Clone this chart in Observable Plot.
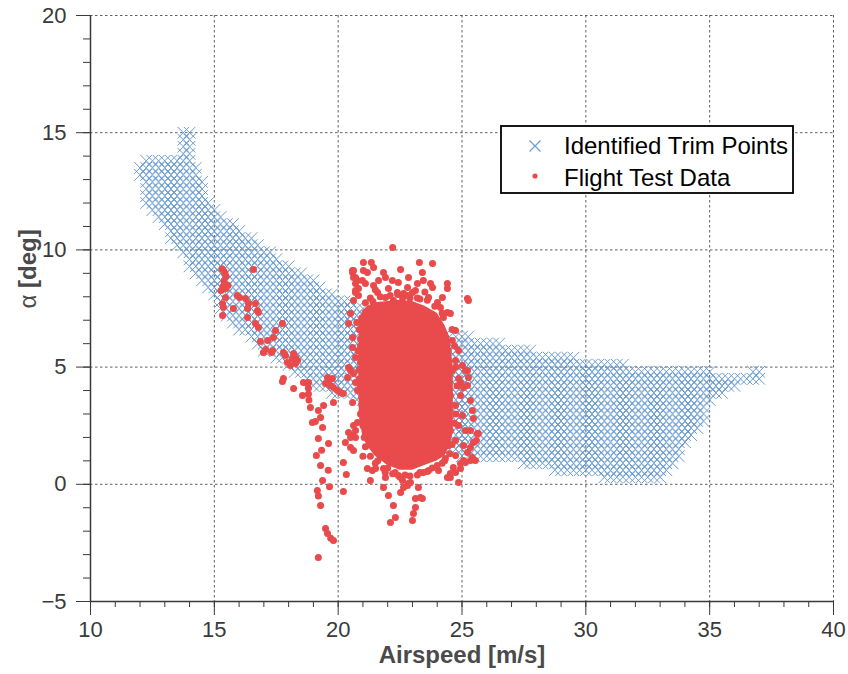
<!DOCTYPE html>
<html><head><meta charset="utf-8">
<script src="https://cdn.jsdelivr.net/npm/d3@7"></script>
<script src="https://cdn.jsdelivr.net/npm/@observablehq/plot@0.6"></script>
<style>
body{margin:0;background:#fff;}
#wrap{position:relative;width:848px;height:674px;}
#legend{position:absolute;left:500px;top:125px;}
</style></head><body><div id="wrap"></div>
<script>
// ---------- Identified trim points: envelope per airspeed column ----------
const trimSpeed = [12.00,12.25,12.50,12.75,13.00,13.25,13.50,13.75,14.00,14.25,14.50,14.75,15.00,15.25,15.50,15.75,16.00,16.25,16.50,16.75,17.00,17.25,17.50,17.75,18.00,18.25,18.50,18.75,19.00,19.25,19.50,19.75,20.00,20.25,20.50,20.75,21.00,21.25,21.50,21.75,22.00,22.25,22.50,22.75,23.00,23.25,23.50,23.75,24.00,24.25,24.50,24.75,25.00,25.25,25.50,25.75,26.00,26.25,26.50,26.75,27.00,27.25,27.50,27.75,28.00,28.25,28.50,28.75,29.00,29.25,29.50,29.75,30.00,30.25,30.50,30.75,31.00,31.25,31.50,31.75,32.00,32.25,32.50,32.75,33.00,33.25,33.50,33.75,34.00,34.25,34.50,34.75,35.00,35.25,35.50,35.75,36.00,36.25,36.50,36.75,37.00];
const trimAlphaMin = [13.2,11.9,11.55,11.3,10.9,10.45,10.05,9.65,9.25,8.9,8.5,8.2,7.85,7.45,7.1,6.85,6.6,6.35,6.1,5.85,5.65,5.45,5.3,5.15,4.95,4.75,4.55,4.35,4.2,4.05,3.95,3.85,3.8,3.75,3.65,3.55,3.45,3.3,3.15,3.0,2.85,2.7,2.5,2.35,2.2,2.05,1.9,1.75,1.6,1.45,1.3,1.25,1.2,1.2,1.2,1.15,1.15,1.1,1.1,1.05,1.0,0.95,0.9,0.85,0.8,0.75,0.7,0.6,0.55,0.5,0.5,0.45,0.45,0.4,0.35,0.3,0.25,0.2,0.2,0.2,0.2,0.2,0.2,0.2,0.25,0.5,0.9,1.2,1.55,1.9,2.25,2.6,3.45,3.7,3.9,4.05,4.2,4.3,4.4,4.4,4.5];
const trimAlphaMax = [13.6,13.8,13.8,13.9,13.9,14.0,14.0,15.0,15.0,13.5,12.9,12.2,11.8,11.5,11.3,11.1,10.9,10.7,10.5,10.3,10.1,9.9,9.7,9.5,9.35,9.2,9.0,8.85,8.7,8.5,8.35,8.2,8.05,7.95,7.85,7.75,7.65,7.55,7.45,7.35,7.25,7.15,7.05,6.95,6.85,6.75,6.7,6.6,6.55,6.5,6.45,6.4,6.35,6.3,6.2,6.15,6.1,6.05,6.0,5.95,5.9,5.85,5.75,5.7,5.6,5.55,5.5,5.45,5.45,5.4,5.4,5.35,5.35,5.3,5.3,5.25,5.2,5.15,5.1,5.05,5.0,5.0,5.0,5.0,5.0,4.95,4.95,4.95,4.95,4.9,4.9,4.85,4.8,4.75,4.7,4.65,4.6,4.7,4.7,4.8,4.8];
const trimAlphaStep = 0.3;

// ---------- Flight test data ----------
// dense core (thousands of overlapping samples): visible extent per airspeed
const coreSpeed    = [20.85,21.0,21.2,21.5,22.0,22.5,23.0,23.5,24.0,24.3,24.5,24.65];
const coreAlphaMin = [3.0, 2.0, 1.6, 1.2, 0.8, 0.6, 0.6, 0.8, 1.0, 1.2, 1.6, 2.2];
const coreAlphaMax = [7.0, 7.4, 7.6, 7.75,7.8, 7.85,7.8, 7.6, 7.3, 6.8, 6.3, 5.0];

const flightLeftArm = [[15.39,9.08],[15.47,8.86],[15.39,8.65],[15.35,8.44],[15.27,8.27],[15.55,8.48],[15.47,8.35],[15.31,9.2],[15.43,8.99],
[16.58,9.16],[15.45,7.97],[15.33,7.70],[15.37,7.55],[15.77,7.50],[15.33,7.20],
[15.93,8.05],[16.02,7.97],[16.26,7.93],[16.38,7.71],[16.66,7.71],[16.34,7.50],[16.74,7.41],[16.78,7.33],[16.34,7.12],[16.66,6.86],[16.78,6.69],
[17.75,6.86],[17.47,6.56],[17.39,6.26],[16.86,6.09],[17.15,6.13],
[17.07,5.75],[16.98,5.62],[17.35,5.71],[17.31,5.62],
[17.79,5.62],[17.87,5.49],[18.20,5.58],[18.28,5.41],[18.16,5.37],[17.95,5.20],[18.07,5.07],[18.28,5.15],[18.36,5.28],
[17.75,4.39],[17.79,4.51],[18.20,4.09],[18.60,4.34],[18.76,4.30],
[18.80,4.34],[18.80,4.10],[18.80,3.85],[18.82,3.60],[18.56,3.79],
[18.88,3.28],[19.20,3.15],[19.41,3.36],[19.29,2.85],[18.96,2.64],[19.37,2.42],[19.08,2.68],
[19.20,1.95],[19.61,1.74],
[19.57,4.56],[19.61,4.34],[19.69,4.22],[19.81,4.13],[19.97,4.0],[20.09,3.92],[20.21,3.87],[19.77,4.51],[19.49,4.30],
[19.81,3.49],[20.58,3.49],[20.38,4.56],[20.50,4.85]];

const flightLowTail = [[19.2,-3.12],[19.49,-1.89],[19.57,-2.1],[19.7,-2.3],[19.81,-2.40],[19.29,-0.9],[19.2,-0.5],[19.16,-0.26],[19.37,0.16],[19.29,0.80],[19.12,1.23],[19.33,1.45],[19.6,0.6],[19.65,-0.1],
[20.29,1.78],[20.21,0.93],[20.33,0.42],[20.21,-0.31],[20.70,2.30],[20.78,2.64],[20.58,2.08],[20.50,1.57],[20.62,1.44],[20.42,2.21],[20.62,2.51],[20.50,2.0],[20.70,2.0],
[21.18,0.67],[21.38,0.59],[21.30,0.16],[21.51,0.67],[21.83,0.67],[21.91,0.29],[21.83,-0.14],[22.03,-0.48],[22.23,-0.90],[22.31,-1.42],[22.11,-1.63],
[22.43,0.38],[22.60,0.16],[22.64,-0.14],[22.52,-0.35],[22.80,-0.05],[22.84,0.03],[22.92,0.08],
[23.0,-1.54],[23.04,-1.25],[23.12,-0.99],[23.12,-0.61],[23.32,-0.56],[23.24,-0.14],[23.40,-0.61],
[23.44,0.50],[23.65,0.59],[24.05,0.59],[24.53,0.29],[24.74,0.50],[24.86,0.08],[24.94,0.67],[25.14,0.93],[25.34,1.02],[25.54,1.02],
[21.0,1.2],[21.6,1.0],[22.0,0.7],[22.3,0.5],[22.7,0.4],[23.2,0.4],[23.8,0.7],[24.2,0.9]];

const flightRightEdge = [[25.22,4.85],[25.26,4.56],[25.06,4.13],[24.94,4.34],[25.34,3.58],[25.42,3.15],[25.46,2.81],[25.62,2.17],[25.46,1.78],[25.34,1.57],[25.22,1.36],[25.42,1.14],[25.06,1.02],[24.94,0.89],[24.65,0.72],[24.53,0.46],[24.41,0.29],
[24.33,2.72],[24.53,2.30],[24.74,1.87],[24.45,1.66],[24.86,2.51],[25.02,2.94],[24.74,3.36],[24.53,3.79],[24.33,4.22],[24.94,3.79],[25.14,2.30],[25.06,1.66],[25.34,2.30],[25.58,1.87],[25.66,2.17],[24.74,1.23],[24.33,1.10],[24.61,4.85],[24.74,5.28],[24.45,5.71],[24.61,6.13],[24.86,5.71],[25.02,5.07],[24.74,6.56],
[25.14,4.85],[24.86,4.51],[25.22,4.22],
[24.6,6.6],[24.7,5.9],[24.75,5.0],[24.8,4.2],[24.75,3.0],[24.7,2.6]];

const flightTopEdge = [[22.2,10.1],
[21.02,9.46],[21.34,9.46],[21.43,9.25],[21.02,9.12],[21.18,9.04],[20.62,9.12],[20.58,9.04],[20.70,8.82],[20.78,8.69],[20.98,8.69],[21.10,8.57],[20.82,8.35],[20.70,8.18],[20.82,8.05],[21.43,8.48],[21.63,8.69],[21.83,9.04],[21.91,8.82],[22.19,8.69],[22.43,8.61],[22.52,9.16],[22.84,8.82],[22.03,8.35],[22.39,8.18],[22.64,8.14],[21.59,8.18],[21.91,7.97],[22.23,7.84],
[23.28,9.46],[23.81,9.42],[23.40,9.04],[23.44,8.69],[23.20,8.57],[23.12,8.27],[23.0,8.18],[24.41,8.57],[24.41,8.35],[24.21,7.97],[23.73,8.57],[23.81,8.40],
[23.65,7.97],[24.01,7.76],[24.13,7.54],[24.25,7.12],[24.41,7.33],[24.53,7.29],[25.22,7.93],[25.26,7.84],
[22.9,7.95],[23.3,7.9],[22.6,7.95],[21.4,7.8],
[21.1,7.75],[21.3,7.95],[21.7,8.0],[22.1,8.05],[22.4,8.1],[22.8,8.05],[23.2,7.95],[23.6,7.85],[23.9,7.6],[24.2,7.3],[21.5,8.3],[22.8,8.4],[23.5,8.2]];

const flightCoreEdge = [[20.58,9.12],[20.62,8.82],[20.70,8.57],[20.70,8.27],[20.62,7.84],[20.5,7.29],[20.42,6.86],[20.58,6.26],[20.58,5.84],[20.70,5.41],[20.42,4.98],[20.62,4.73],[20.70,4.34],[20.78,4.0],
[20.85,6.6],[20.9,5.9],[20.9,5.2],[20.85,4.5],[20.95,3.7],[20.9,3.0],[21.0,2.5],[21.05,2.0],
[20.95,7.1],[20.9,6.2],[20.95,5.5],[20.85,4.9],[20.9,4.2],[20.95,3.4],[21.0,2.8],[20.8,5.7],[20.75,6.9],
[21.1,1.6],[21.3,1.2],[21.5,0.9],[21.9,0.5],[22.2,0.45],[22.5,0.3],[22.9,0.35],[23.3,0.5],[23.6,0.55],[24.0,0.8],[24.3,1.0],[24.5,1.3],[24.6,1.7]];

// ---------- Axes ----------
const xTicks = [10,15,20,25,30,35,40];
const yTicks = [-5,0,5,10,15,20];
const xMinor = d3.range(10,41,1);
const yMinor = d3.range(-5,21,1);

const blue = "#6398cd";
const red = "#e94a4b";

const trimPoints = [];
trimSpeed.forEach((v,i)=>{
  const k0 = Math.ceil(trimAlphaMin[i]/trimAlphaStep - 1e-9);
  const k1 = Math.floor(trimAlphaMax[i]/trimAlphaStep + 1e-9);
  for (let k=k0;k<=k1;k++) trimPoints.push({speed:v, alpha:k*trimAlphaStep});
});
const core = coreSpeed.map((v,i)=>({speed:v, lo:coreAlphaMin[i], hi:coreAlphaMax[i]}));
const flight = [...flightLeftArm, ...flightLowTail, ...flightRightEdge, ...flightTopEdge, ...flightCoreEdge]
  .map(([speed,alpha])=>({speed, alpha}));

const gridStyle = {stroke:"#444", strokeOpacity:0.85, strokeDasharray:"2.5,2.5", strokeWidth:1};

const chart = Plot.plot({
  width: 848, height: 674,
  marginLeft: 90, marginRight: 15, marginTop: 15, marginBottom: 73,
  x: {domain:[10,40]},
  y: {domain:[-5,20]},
  style: {fontFamily:'"Liberation Sans", Arial, sans-serif', fontSize:"22px", color:"#3a3a3a", background:"#fff"},
  marks: [
    Plot.gridX({ticks: xTicks.slice(1), ...gridStyle}),
    Plot.gridY({ticks: yTicks.slice(1), ...gridStyle}),
    Plot.dot(trimPoints, {x:"speed", y:"alpha", symbol:"times", r:5.4, stroke:blue, strokeWidth:0.95}),
    Plot.areaY(core, {x:"speed", y1:"lo", y2:"hi", fill:red, curve:"linear"}),
    Plot.dot(flight, {x:"speed", y:"alpha", r:3.5, fill:red, stroke:"none"}),
    Plot.axisX({ticks: xMinor, tickSize: 6, tickFormat: () => "", label: null}),
    Plot.axisY({ticks: yMinor, tickSize: 7, tickFormat: () => "", label: null}),
    Plot.axisX({ticks: xTicks, tickSize: 14, tickPadding: 6, label: null}),
    Plot.axisY({ticks: yTicks, tickSize: 14, tickPadding: 10, label: null}),
    Plot.ruleX([10], {stroke:"#3a3a3a", strokeWidth:1.5}),
    Plot.ruleY([-5], {stroke:"#3a3a3a", strokeWidth:1.5}),
    Plot.text(["Airspeed [m/s]"], {frameAnchor:"bottom", dy: 61, fontWeight:"bold", fontSize:24, fill:"#4a4a4a"}),
    Plot.text(["α [deg]"], {frameAnchor:"left", dx:-62, rotate:-90, fontWeight:"bold", fontSize:24, fill:"#4a4a4a"})
  ]
});
document.getElementById("wrap").appendChild(chart);

// regular-weight Greek alpha in the y title
d3.select(chart).selectAll("text").filter(function(){ return this.textContent === "α [deg]"; })
  .each(function(){
    const t = d3.select(this);
    t.text(null);
    t.append("tspan").attr("font-weight","normal").text("α");
    t.append("tspan").text(" [deg]");
  });

// legend
const lg = d3.select("#wrap").append("svg").attr("id","legend").attr("width",295).attr("height",70);
lg.append("rect").attr("x",1).attr("y",1).attr("width",292).attr("height",67).attr("fill","#fff").attr("stroke","#000").attr("stroke-width",1.8);
const xs = 5.5;
lg.append("path").attr("d",`M${35-xs},${21-xs}L${35+xs},${21+xs}M${35-xs},${21+xs}L${35+xs},${21-xs}`).attr("stroke","#6c9fd2").attr("stroke-width",1.2);
lg.append("circle").attr("cx",35).attr("cy",51).attr("r",2.6).attr("fill",red);
lg.append("text").attr("x",64).attr("y",29).text("Identified Trim Points").attr("font-family",'"Liberation Sans", Arial, sans-serif').attr("font-size",24).attr("fill","#000");
lg.append("text").attr("x",64).attr("y",61).text("Flight Test Data").attr("font-family",'"Liberation Sans", Arial, sans-serif').attr("font-size",24).attr("fill","#000");
</script>
</body></html>
